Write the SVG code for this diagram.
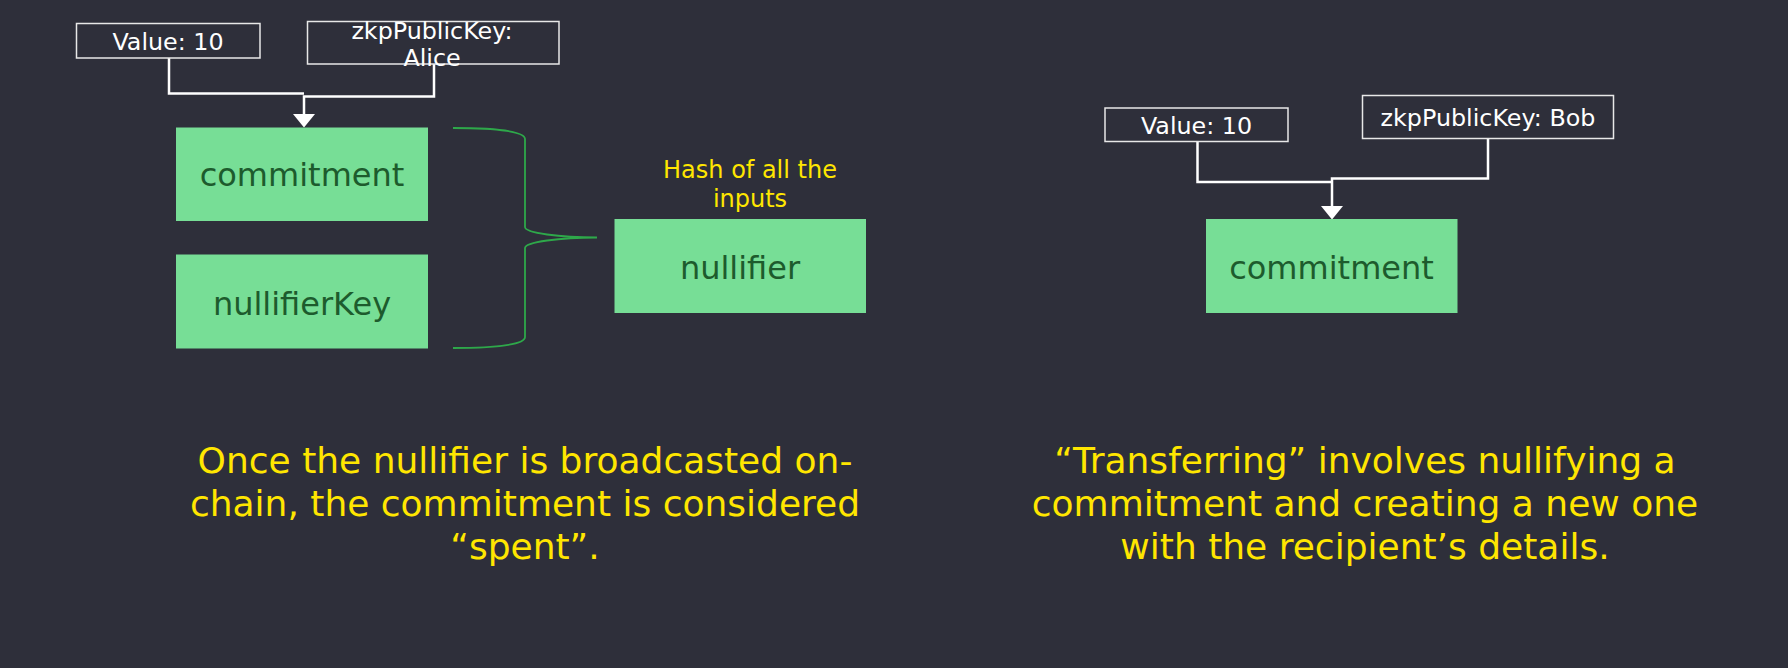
<svg xmlns="http://www.w3.org/2000/svg" width="1788" height="668" viewBox="0 0 1788 668">
<style>
text{font-family:"DejaVu Sans","Liberation Sans",sans-serif}
.in{fill:none;stroke:#e8e8e8;stroke-width:1.5}
.it{fill:#ffffff;font-size:23.8px;text-anchor:middle}
.nd{fill:#77de96}
.nt{fill:#1d5b2d;font-size:32px;text-anchor:middle}
.cn{fill:none;stroke:#ffffff;stroke-width:2.5}
.cap{fill:#ffe600;font-size:36px;text-anchor:middle}
.hs{fill:#ffe600;font-size:24px;text-anchor:middle}
</style>
<rect width="1788" height="668" fill="#2e2f3a"/>
<g id="connectors">
<path class="cn" d="M169,58 V93.5 H304"/>
<path class="cn" d="M434,64 V96.5 H304 V114"/>
<path d="M293,114 L315,114 L304,127.5 Z" fill="#ffffff"/>
<path class="cn" d="M1197.5,141.5 V182 H1332"/>
<path class="cn" d="M1488,138.5 V178.5 H1332 V206"/>
<path d="M1321,206 L1343,206 L1332,219.5 Z" fill="#ffffff"/>
<path d="M453,128 C500,128 525,132 525,139 L525,227 C525,233 560,237.5 597,237.5 C560,237.5 525,242 525,248 L525,337 C525,344 500,348 453,348" fill="none" stroke="#2ea84a" stroke-width="1.8"/>
</g>
<g id="value-left">
<rect class="in" x="76.5" y="23.5" width="183.5" height="34.5"/>
<text class="it" x="168" y="50">Value: 10</text>
</g>
<g id="zkp-alice">
<rect class="in" x="307.5" y="21.5" width="251.5" height="42.5"/>
<text class="it" x="432" y="38.8">zkpPublicKey:</text>
<text class="it" x="432" y="65.5">Alice</text>
</g>
<g id="commitment-left">
<rect class="nd" x="176" y="127.5" width="252" height="93.5"/>
<text class="nt" x="302" y="186">commitment</text>
</g>
<g id="nullifierKey">
<rect class="nd" x="176" y="254.5" width="252" height="94"/>
<text class="nt" x="302" y="315">nullifierKey</text>
</g>
<g id="hash-label">
<text class="hs" x="750" y="178.3">Hash of all the</text>
<text class="hs" x="750" y="207">inputs</text>
</g>
<g id="nullifier">
<rect class="nd" x="614.5" y="219" width="251.5" height="94"/>
<text class="nt" x="740" y="279">nullifier</text>
</g>
<g id="value-right">
<rect class="in" x="1105" y="108" width="183" height="33.5"/>
<text class="it" x="1196.5" y="134">Value: 10</text>
</g>
<g id="zkp-bob">
<rect class="in" x="1362.5" y="95.5" width="251" height="43"/>
<text class="it" x="1488" y="126">zkpPublicKey: Bob</text>
</g>
<g id="commitment-right">
<rect class="nd" x="1206" y="219" width="251.5" height="94"/>
<text class="nt" x="1331.5" y="279">commitment</text>
</g>
<g id="caption-left">
<text class="cap" x="525" y="473">Once the nullifier is broadcasted on-</text>
<text class="cap" x="525" y="516">chain, the commitment is considered</text>
<text class="cap" x="525" y="559">“spent”.</text>
</g>
<g id="caption-right">
<text class="cap" x="1365" y="473">“Transferring” involves nullifying a</text>
<text class="cap" x="1365" y="516">commitment and creating a new one</text>
<text class="cap" x="1365" y="559">with the recipient’s details.</text>
</g>
</svg>
